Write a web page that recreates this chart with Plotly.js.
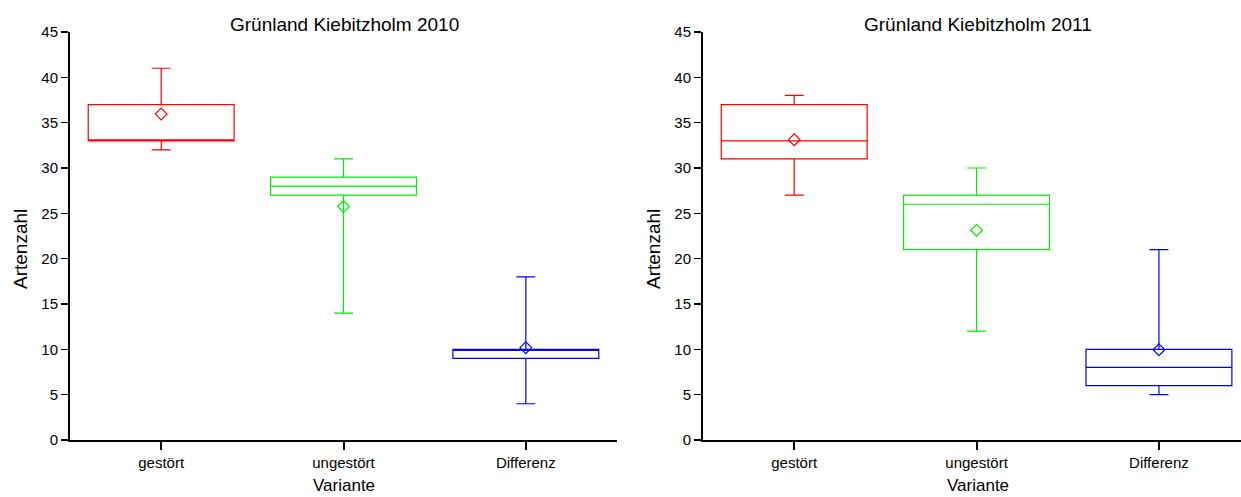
<!DOCTYPE html>
<html>
<head>
<meta charset="utf-8">
<script src="https://cdn.plot.ly/plotly-3.0.1.min.js"></script>
<style>html,body{margin:0;padding:0;background:#fff;}#chart{width:1241px;height:497px;}</style>
</head>
<body>
<div id="chart"></div>
<script>
// ---- data ----
const categories = ['gestört', 'ungestört', 'Differenz'];

const min2010    = [32, 14, 4];
const q1_2010    = [33, 27, 9];
const median2010 = [33, 28, 10];
const q3_2010    = [37, 29, 10];
const max2010    = [41, 31, 18];
const mean2010   = [35.95, 25.75, 10.18];

const min2011    = [27, 12, 5];
const q1_2011    = [31, 21, 6];
const median2011 = [33, 26, 8];
const q3_2011    = [37, 27, 10];
const max2011    = [38, 30, 21];
const mean2011   = [33.12, 23.13, 9.95];

const titles = ['Grünland Kiebitzholm 2010', 'Grünland Kiebitzholm 2011'];
const yTitle = 'Artenzahl';
const xTitle = 'Variante';
const yTicks = [0, 5, 10, 15, 20, 25, 30, 35, 40, 45];

// ---- style ----
const colors = ['#ff0000', '#00f000', '#0000ff'];
const W = 1241;
const FONT = '"Liberation Sans", Arial, sans-serif';

function boxTraces(mins, q1s, meds, q3s, maxs, means, xa, ya) {
  const out = [];
  categories.forEach((c, i) => {
    out.push({
      type: 'box', x: [c], q1: [q1s[i]], median: [meds[i]], q3: [q3s[i]],
      lowerfence: [mins[i]], upperfence: [maxs[i]],
      width: 0.8, whiskerwidth: 0.13,
      line: {color: colors[i], width: 1.2}, fillcolor: 'rgba(0,0,0,0)',
      xaxis: xa, yaxis: ya, showlegend: false, hoverinfo: 'skip'
    });
    out.push({
      type: 'scatter', mode: 'markers', x: [c], y: [means[i]],
      marker: {symbol: 'diamond-open', size: 9, color: colors[i], line: {width: 1.2, color: colors[i]}},
      xaxis: xa, yaxis: ya, showlegend: false, hoverinfo: 'skip'
    });
  });
  return out;
}

const data = [].concat(
  boxTraces(min2010, q1_2010, median2010, q3_2010, max2010, mean2010, 'x', 'y'),
  boxTraces(min2011, q1_2011, median2011, q3_2011, max2011, mean2011, 'x2', 'y2')
);

function xAxis(domain, range, anchor) {
  return {
    domain: domain, range: range, anchor: anchor, type: 'category',
    categoryorder: 'array', categoryarray: categories,
    showline: true, linecolor: '#000', linewidth: 2, mirror: false,
    ticks: 'outside', ticklen: 8, tickwidth: 2, tickcolor: '#000',
    showgrid: false, zeroline: false,
    tickfont: {family: FONT, size: 15, color: '#000'}, fixedrange: true
  };
}
function yAxis(anchor) {
  return {
    domain: [0, 1], range: [0, 45], anchor: anchor,
    tickvals: yTicks, ticktext: yTicks.map(String),
    showline: true, linecolor: '#000', linewidth: 2,
    ticks: 'outside', ticklen: 7, tickwidth: 1.5, tickcolor: '#000',
    showgrid: false, zeroline: false,
    tickfont: {family: FONT, size: 15, color: '#000'}, fixedrange: true
  };
}

const xTitleFont = {family: FONT, size: 17, color: '#000'};
const yTitleFont = {family: FONT, size: 19, color: '#000'};
const titleFont = {family: FONT, size: 19, color: '#000'};
function py(p) { return (440 - p) / 408; }

const layout = {
  width: 1241, height: 497,
  margin: {l: 0, r: 0, t: 32, b: 57, pad: 0},
  paper_bgcolor: '#fff', plot_bgcolor: '#fff',
  showlegend: false,
  xaxis: xAxis([70 / W, 617 / W], [-0.5, 2.5], 'y'),
  yaxis: yAxis('x'),
  xaxis2: xAxis([703 / W, 1], [-0.5, 2.45], 'y2'),
  yaxis2: yAxis('x2'),
  annotations: [
    {text: titles[0], xref: 'paper', yref: 'paper', x: 344 / W, y: py(24), showarrow: false, font: titleFont, xanchor: 'center', yanchor: 'middle'},
    {text: titles[1], xref: 'paper', yref: 'paper', x: 978 / W, y: py(24), showarrow: false, font: titleFont, xanchor: 'center', yanchor: 'middle'},
    {text: yTitle, xref: 'paper', yref: 'paper', x: 20 / W, y: py(249), showarrow: false, font: yTitleFont, textangle: -90, xanchor: 'center', yanchor: 'middle'},
    {text: yTitle, xref: 'paper', yref: 'paper', x: 653 / W, y: py(249), showarrow: false, font: yTitleFont, textangle: -90, xanchor: 'center', yanchor: 'middle'},
    {text: xTitle, xref: 'paper', yref: 'paper', x: 344 / W, y: py(485), showarrow: false, font: xTitleFont, xanchor: 'center', yanchor: 'middle'},
    {text: xTitle, xref: 'paper', yref: 'paper', x: 978 / W, y: py(485), showarrow: false, font: xTitleFont, xanchor: 'center', yanchor: 'middle'}
  ]
};

Plotly.newPlot('chart', data, layout, {displayModeBar: false, staticPlot: true});
</script>
</body>
</html>
